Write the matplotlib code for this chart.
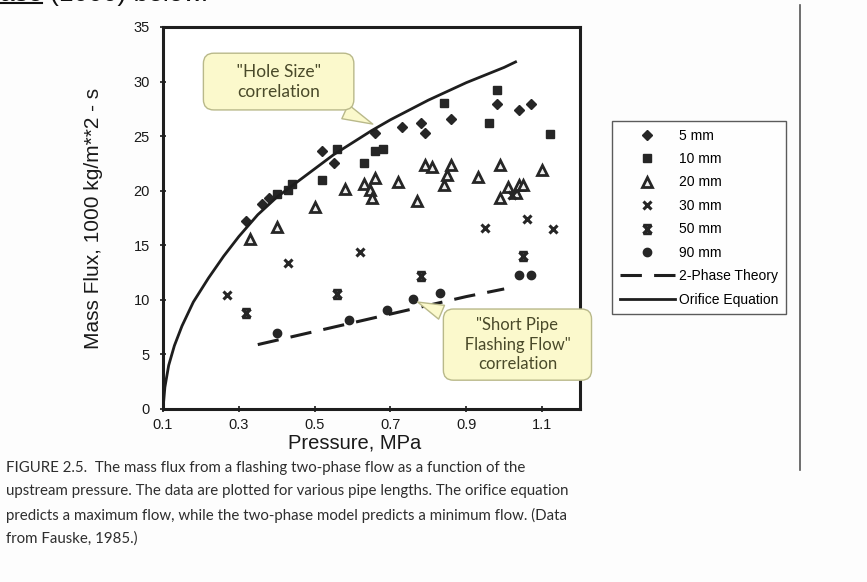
import matplotlib
matplotlib.use("Agg")
import matplotlib.pyplot as plt
from matplotlib.path import Path
from matplotlib.lines import Line2D

# pressure (MPa) / mass flux (1000 kg/m2 s)
p_5mm = [0.32, 0.36, 0.38, 0.52, 0.55, 0.66, 0.73, 0.78, 0.79, 0.86, 0.98, 1.04, 1.07]
g_5mm = [17.2, 18.8, 19.3, 23.6, 22.5, 25.3, 25.8, 26.2, 25.3, 26.6, 27.9, 27.4, 27.9]

p_10mm = [0.40, 0.43, 0.44, 0.52, 0.56, 0.63, 0.66, 0.68, 0.84, 0.96, 0.98, 1.12]
g_10mm = [19.7, 20.1, 20.6, 21.0, 23.8, 22.5, 23.6, 23.8, 28.0, 26.2, 29.2, 25.2]

p_20mm = [0.33, 0.40, 0.50, 0.58, 0.63, 0.645, 0.65, 0.66, 0.72, 0.77, 0.79, 0.81,
          0.84, 0.85, 0.86, 0.93, 0.99, 0.99, 1.01, 1.03, 1.04, 1.05, 1.10]
g_20mm = [15.6, 16.7, 18.5, 20.2, 20.6, 20.1, 19.3, 21.2, 20.8, 19.1, 22.4, 22.2,
          20.5, 21.4, 22.4, 21.3, 22.4, 19.3, 20.3, 19.8, 20.5, 20.5, 21.9]

p_30mm = [0.27, 0.43, 0.62, 0.95, 1.02, 1.06, 1.13]
g_30mm = [10.4, 13.4, 14.4, 16.6, 19.6, 17.4, 16.5]

p_50mm = [0.32, 0.56, 0.78, 1.05]
g_50mm = [8.8, 10.5, 12.2, 14.0]

p_90mm = [0.40, 0.59, 0.69, 0.76, 0.83, 1.04, 1.07]
g_90mm = [7.0, 8.2, 9.1, 10.1, 10.6, 12.3, 12.3]

# orifice equation curve, points picked along the drawn line
p_orifice = [0.10, 0.105, 0.115, 0.13, 0.15, 0.18, 0.22, 0.26, 0.30, 0.35, 0.40, 0.45,
             0.50, 0.55, 0.60, 0.65, 0.70, 0.75, 0.80, 0.85, 0.90, 0.95, 1.00, 1.03]
g_orifice = [0.0, 2.0, 4.0, 5.8, 7.6, 9.8, 12.0, 14.0, 15.8, 17.8, 19.4, 20.7,
             22.0, 23.3, 24.4, 25.5, 26.5, 27.4, 28.3, 29.1, 29.9, 30.6, 31.3, 31.8]

# 2-phase theory line
p_twophase = [0.35, 0.50, 0.60, 0.70, 0.80, 0.90, 1.00]
g_twophase = [5.9, 7.1, 7.9, 8.7, 9.5, 10.3, 11.0]

x_ticks = [0.1, 0.3, 0.5, 0.7, 0.9, 1.1]
y_ticks = [0, 5, 10, 15, 20, 25, 30, 35]

caption = ("FIGURE 2.5.  The mass flux from a flashing two-phase flow as a function of the\n"
           "upstream pressure. The data are plotted for various pipe lengths. The orifice equation\n"
           "predicts a maximum flow, while the two-phase model predicts a minimum flow. (Data\n"
           "from Fauske, 1985.)")

ink = "#262626"
note_fill = "#fbf9cc"
note_edge = "#b9b98a"
note_text = "#4a4a2a"

# x with bars top and bottom (50 mm marker)
bowtie = Path([(-1, -1), (1, 1), (-1, 1), (1, -1), (-1, 1), (1, 1), (-1, -1), (1, -1)],
              [Path.MOVETO, Path.LINETO] * 4)

fig = plt.figure(figsize=(8.67, 5.82), dpi=100)
fig.patch.set_facecolor("#fdfdfd")
ax = fig.add_axes([163 / 867, 1 - 409 / 582, 417 / 867, 382 / 582])

ax.plot(p_5mm, g_5mm, ls="none", marker="D", ms=5, color=ink, label="5 mm")
ax.plot(p_10mm, g_10mm, ls="none", marker="s", ms=6, color=ink, label="10 mm")
ax.plot(p_20mm, g_20mm, ls="none", marker="^", ms=6.5, mfc="#eeeeee", mec=ink, mew=2,
        label="20 mm")
ax.plot(p_30mm, g_30mm, ls="none", marker="x", ms=6, mew=2.2, color=ink, label="30 mm")
ax.plot(p_50mm, g_50mm, ls="none", marker=bowtie, ms=6, mew=2.2, color=ink, label="50 mm")
ax.plot(p_90mm, g_90mm, ls="none", marker="o", ms=6, color=ink, label="90 mm")
ax.plot(p_twophase, g_twophase, color="#1e1e1e", lw=2.2, ls=(0, (7, 4)), label="2-Phase Theory")
ax.plot(p_orifice, g_orifice, color="#1e1e1e", lw=2, label="Orifice Equation")

ax.set_xlim(0.1, 1.2)
ax.set_ylim(0, 35)
ax.set_xticks(x_ticks)
ax.set_xticklabels([f"{t:.1f}" for t in x_ticks])
ax.set_yticks(y_ticks)
ax.tick_params(direction="inout", length=5, width=1.2, labelsize=10.5, colors="#1a1a1a",
               pad=7)
ax.tick_params(axis="x", pad=4)
for lab in ax.get_xticklabels() + ax.get_yticklabels():
    lab.set_family("Liberation Sans")
for s in ax.spines.values():
    s.set_linewidth(2.2)
    s.set_color("#1e1e1e")

ax.set_ylabel("Mass Flux, 1000 kg/m**2 - s", family="Liberation Sans", fontsize=15,
              color="#1a1a1a")
ax.yaxis.set_label_coords(-0.145, 0.5)
ax.set_xlabel("Pressure, MPa", family="Liberation Sans", fontsize=14.5, color="#1a1a1a")
ax.xaxis.set_label_coords(0.46, -0.065)

leg = ax.legend(loc="upper left", bbox_to_anchor=(605 / 867, 1 - 114 / 582),
                bbox_transform=fig.transFigure, fancybox=False, edgecolor="#333333",
                handlelength=4, handletextpad=0.3, labelspacing=0.68,
                borderpad=0.55, prop={"family": "Liberation Sans", "size": 10})
leg.get_frame().set_linewidth(1.0)

wedge = dict(arrowstyle="wedge,tail_width=0.9,shrink_factor=0.5", fc=note_fill, ec=note_edge,
             lw=1)
ax.annotate('     "Hole Size"     \ncorrelation', xy=(0.66, 26.0), xytext=(0.405, 30.0),
            ha="center", va="center", fontsize=12.5, family="Lato", color=note_text,
            bbox=dict(boxstyle="round,pad=0.6,rounding_size=0.6", fc=note_fill, ec=note_edge,
                      lw=1),
            arrowprops=wedge, annotation_clip=False, linespacing=1.3)
ax.annotate('"Short Pipe\n   Flashing Flow"   \ncorrelation', xy=(0.765, 9.9),
            xytext=(1.035, 5.9),
            ha="center", va="center", fontsize=12, family="Lato", color=note_text,
            bbox=dict(boxstyle="round,pad=0.5,rounding_size=0.6", fc=note_fill, ec=note_edge,
                      lw=1),
            arrowprops=wedge, annotation_clip=False, linespacing=1.25)

# page bits around the figure
fig.text(0.0, 1.011, "ase (1000) below.", fontsize=19, family="Liberation Sans",
         va="center", color="#111111")
fig.add_artist(Line2D([0, 42 / 867], [1 - 3 / 582, 1 - 3 / 582], color="#111111", lw=1.5))
fig.add_artist(Line2D([800 / 867, 800 / 867], [1 - 5 / 582, 1 - 470 / 582],
                      color="#555555", lw=1.2))
fig.text(6 / 867, 1 - 461 / 582, caption, fontsize=10.8, va="top", ha="left",
         family="Lato", color="#2e2e2e", linespacing=1.8)

fig.savefig("out.png", dpi=100, facecolor=fig.get_facecolor())
